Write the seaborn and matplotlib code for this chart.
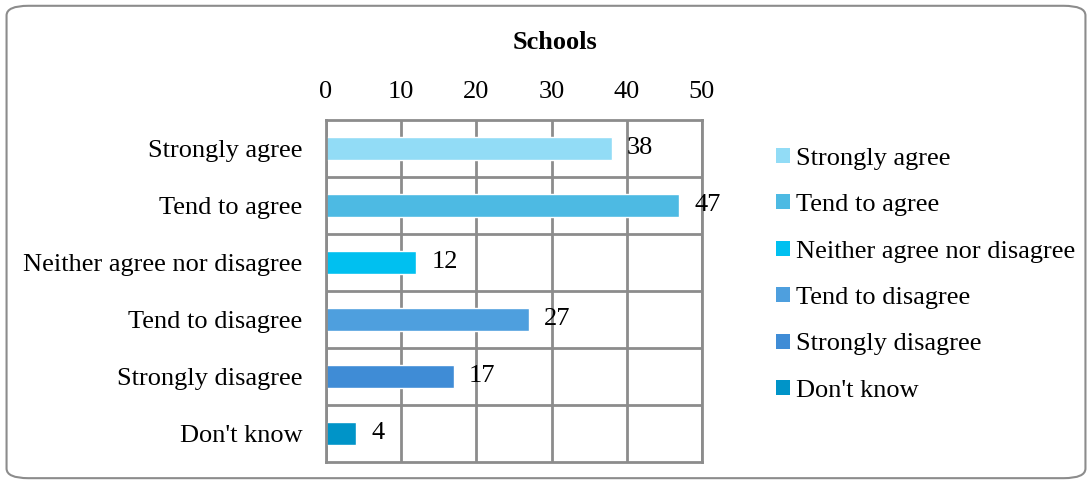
import matplotlib
matplotlib.use("Agg")
import matplotlib.pyplot as plt
import seaborn as sns
import pandas as pd
from matplotlib.patches import FancyBboxPatch, Patch

categories = ["Strongly agree", "Tend to agree", "Neither agree nor disagree",
              "Tend to disagree", "Strongly disagree", "Don't know"]
values = [38, 47, 12, 27, 17, 4]
colors = ["#92DCF6", "#4DBAE3", "#00C0F0", "#4E9FDE", "#3F8CD6", "#0094C8"]
x_ticks = [0, 10, 20, 30, 40, 50]

sns.set_style("white")
plt.rcParams["font.family"] = ["Liberation Serif", "DejaVu Serif"]
plt.rcParams["text.color"] = "black"
plt.rcParams["xtick.labelcolor"] = "black"
plt.rcParams["ytick.labelcolor"] = "black"

fs = 19

df = pd.DataFrame({"Response": categories, "Count": values})

fig = plt.figure(figsize=(10.92, 4.83), dpi=100)
ax = fig.add_axes([0.2985, 0.0435, 0.3443, 0.7081])

sns.barplot(data=df, x="Count", y="Response", hue="Response", palette=colors,
            order=categories, hue_order=categories, dodge=False, width=0.42,
            legend=False, ax=ax, saturation=1)

grid_col = "#8c8c8c"
ax.set_xlim(0, 50)
ax.set_ylim(5.5, -0.5)
ax.set_xticks(x_ticks)
ax.xaxis.tick_top()
ax.tick_params(axis="x", length=0, pad=12, labelsize=fs)
ax.tick_params(axis="y", length=0, pad=17, labelsize=fs)
ax.set_yticks(range(len(categories)))
ax.set_yticks([i + 0.5 for i in range(len(categories) - 1)], minor=True)
ax.tick_params(axis="y", which="minor", length=0)
ax.grid(True, axis="x", which="major", color=grid_col, lw=2)
ax.grid(True, axis="y", which="minor", color=grid_col, lw=2)
ax.set_axisbelow(True)
for s in ax.spines.values():
    s.set_color(grid_col)
    s.set_linewidth(2)
ax.set_xlabel("")
ax.set_ylabel("")

for cont in ax.containers:
    ax.bar_label(cont, padding=11, fontsize=fs)

fig.text(0.508, 0.913, "Schools", ha="center", va="center",
         fontsize=fs, fontweight="bold")

handles = [Patch(facecolor=c, edgecolor="none") for c in colors]
ax.legend(handles, categories, loc="center left", bbox_to_anchor=(0.711, 0.431),
          bbox_transform=fig.transFigure, frameon=False, fontsize=fs,
          handlelength=0.5, handleheight=0.5, handletextpad=0.25,
          labelspacing=0.925, borderaxespad=0, borderpad=0)

border = FancyBboxPatch((0.006, 0.01), 0.988, 0.978,
                        boxstyle="round,pad=0,rounding_size=0.02",
                        transform=fig.transFigure, facecolor="none",
                        edgecolor="#8c8c8c", lw=1.5)
fig.patches.append(border)

fig.savefig("out.png", dpi=100)
